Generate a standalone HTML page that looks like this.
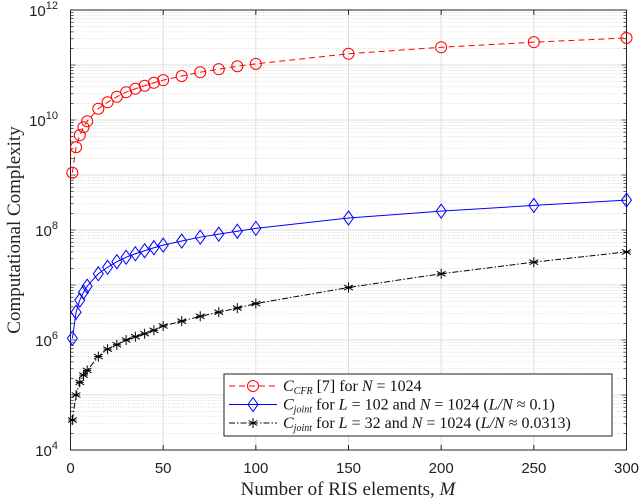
<!DOCTYPE html>
<html><head><meta charset="utf-8"><style>
body{margin:0;background:#fff;width:640px;height:500px;overflow:hidden}
svg{display:block}
.tk{font-family:"Liberation Sans",sans-serif;font-size:15px;fill:#222}
.lb{font-family:"Liberation Serif",serif;font-size:19px;fill:#222}
.lg{font-family:"Liberation Serif",serif;font-size:16px;fill:#111}
</style></head><body>
<svg id="c" width="640" height="500"></svg>
<script>
const mValues=[1,3,5,7,9,15,20,25,30,35,40,45,50,60,70,80,90,100,150,200,250,300];
const cfrValues=[1.1e9,3.2e9,5.3e9,7.4e9,9.5e9,1.6e10,2.1e10,2.65e10,3.2e10,3.7e10,4.2e10,4.75e10,5.3e10,6.3e10,7.4e10,8.4e10,9.5e10,1.05e11,1.6e11,2.1e11,2.6e11,3.1e11];
const joint102Values=[1.07e6,3.2e6,5.3e6,7.4e6,9.5e6,1.6e7,2.1e7,2.65e7,3.2e7,3.7e7,4.2e7,4.75e7,5.3e7,6.3e7,7.4e7,8.4e7,9.5e7,1.07e8,1.65e8,2.2e8,2.8e8,3.5e8];
const joint32Values=[3.5e4,1e5,1.7e5,2.3e5,2.8e5,5e5,6.8e5,8.2e5,1e6,1.15e6,1.3e6,1.5e6,1.8e6,2.2e6,2.7e6,3.2e6,3.8e6,4.6e6,9e6,1.6e7,2.6e7,4e7];
const xTicks=[0,50,100,150,200,250,300];
const yTickExps=[4,6,8,10,12];
const L=70.5,R=626.5,T=10,B=450;
const sx=v=>L+(v-0)/(300-0)*(R-L);
const sy=v=>B-(Math.log10(v)-4)/(12-4)*(B-T);
const NS="http://www.w3.org/2000/svg",svg=document.getElementById('c');
function el(t,a,p){const e=document.createElementNS(NS,t);for(const k in a)e.setAttribute(k,a[k]);(p||svg).appendChild(e);return e;}
const grid=el('g',{});


for(let e=4;e<12;e++)for(let k=2;k<10;k++){const y=sy(k*Math.pow(10,e));el('line',{x1:L,x2:R,y1:y,y2:y,stroke:'#ccc','stroke-width':0.6,'stroke-dasharray':'1,1.5'},grid);}
for(let e=4;e<=12;e++){const y=sy(Math.pow(10,e));el('line',{x1:L,x2:R,y1:y,y2:y,stroke:'#dcdcdc','stroke-width':1},grid);}
xTicks.forEach(v=>{el('line',{x1:sx(v),x2:sx(v),y1:T,y2:B,stroke:'#dcdcdc','stroke-width':1},grid);});
const ax=el('g',{});


el('rect',{x:L,y:T,width:R-L,height:B-T,fill:'none',stroke:'#222','stroke-width':1},ax);
xTicks.forEach(v=>{const x=sx(v);el('line',{x1:x,x2:x,y1:B,y2:B-5,stroke:'#222'},ax);el('line',{x1:x,x2:x,y1:T,y2:T+5,stroke:'#222'},ax);
 const t=el('text',{x:x,y:473,'text-anchor':'middle',class:'tk'},ax);t.textContent=v;
 
 });
for(let e=4;e<12;e++)for(let k=1;k<10;k++){const y=sy(k*Math.pow(10,e));const w=k==1?5:3;el('line',{x1:L,x2:L+w,y1:y,y2:y,stroke:'#222','stroke-width':0.7},ax);el('line',{x1:R,x2:R-w,y1:y,y2:y,stroke:'#222','stroke-width':0.7},ax);}
yTickExps.forEach(e=>{const y=sy(Math.pow(10,e));const t=el('text',{x:58,y:y+6,'text-anchor':'end',class:'tk'},ax);
 
 
 const a=el('tspan',{},t);a.textContent='10';const b=el('tspan',{dy:-7,'font-size':11},t);b.textContent=e;});
const xl=el('text',{x:348,y:495,'text-anchor':'middle',class:'lb'});xl.innerHTML='Number of RIS elements, <tspan font-style="italic">M</tspan>';


const yl=el('text',{x:0,y:0,'text-anchor':'middle',class:'lb',transform:'translate(20,230) rotate(-90)'});yl.textContent='Computational Complexity';


function marker(g,type,x,y,c){
 if(type=='o')el('circle',{cx:x,cy:y,r:5.5,fill:'none',stroke:c,'stroke-width':1},g);
 else if(type=='d')el('path',{d:`M${x} ${y-7}L${x+5} ${y}L${x} ${y+7}L${x-5} ${y}Z`,fill:'none',stroke:c,'stroke-width':1},g);
 else{for(const a of [0,60,120]){const r=a*Math.PI/180;el('line',{x1:x-5*Math.sin(r),y1:y-5*Math.cos(r),x2:x+5*Math.sin(r),y2:y+5*Math.cos(r),stroke:c,'stroke-width':1},g);}el('line',{x1:x-4,x2:x+4,y1:y,y2:y,stroke:c,'stroke-width':1},g);}
}
const series=[[cfrValues,'#f00','6,4','o','series-cfr'],[joint102Values,'#00f','','d','series-joint-l102'],[joint32Values,'#000','6,2,1.5,2','s','series-joint-l32']];
series.forEach(([vals,c,da,m,name])=>{const g=el('g',{});
 
 
 el('path',{d:vals.map((v,i)=>(i?'L':'M')+sx(mValues[i])+' '+sy(v)).join(''),fill:'none',stroke:c,'stroke-width':1,'stroke-dasharray':da},g);
 vals.forEach((v,i)=>marker(g,m,sx(mValues[i]),sy(v),c));});
const lg=el('g',{});


el('rect',{x:224,y:374,width:388,height:62,fill:'#fff',stroke:'#222','stroke-width':1},lg);
const ents=[['#f00','6,4','o','<tspan font-style="italic">C<tspan font-size="10" dy="3">CFR</tspan></tspan><tspan dy="-3"> [7] for </tspan><tspan font-style="italic">N</tspan> = 1024'],
['#00f','','d','<tspan font-style="italic">C<tspan font-size="10" dy="3">joint</tspan></tspan><tspan dy="-3"> for </tspan><tspan font-style="italic">L</tspan> = 102 and <tspan font-style="italic">N</tspan> = 1024 (<tspan font-style="italic">L/N</tspan> ≈ 0.1)'],
['#000','6,2,1.5,2','s','<tspan font-style="italic">C<tspan font-size="10" dy="3">joint</tspan></tspan><tspan dy="-3"> for </tspan><tspan font-style="italic">L</tspan> = 32 and <tspan font-style="italic">N</tspan> = 1024 (<tspan font-style="italic">L/N</tspan> ≈ 0.0313)']];
ents.forEach(([c,da,m,html],i)=>{const y=386+i*18.5;const g=el('g',{},lg);
 
 
 el('line',{x1:229,x2:277,y1:y,y2:y,stroke:c,'stroke-width':1,'stroke-dasharray':da},g);marker(g,m,253,y,c);
 const t=el('text',{x:283,y:y+5,class:'lg'},g);t.innerHTML=html;});
</script>
</body></html>
